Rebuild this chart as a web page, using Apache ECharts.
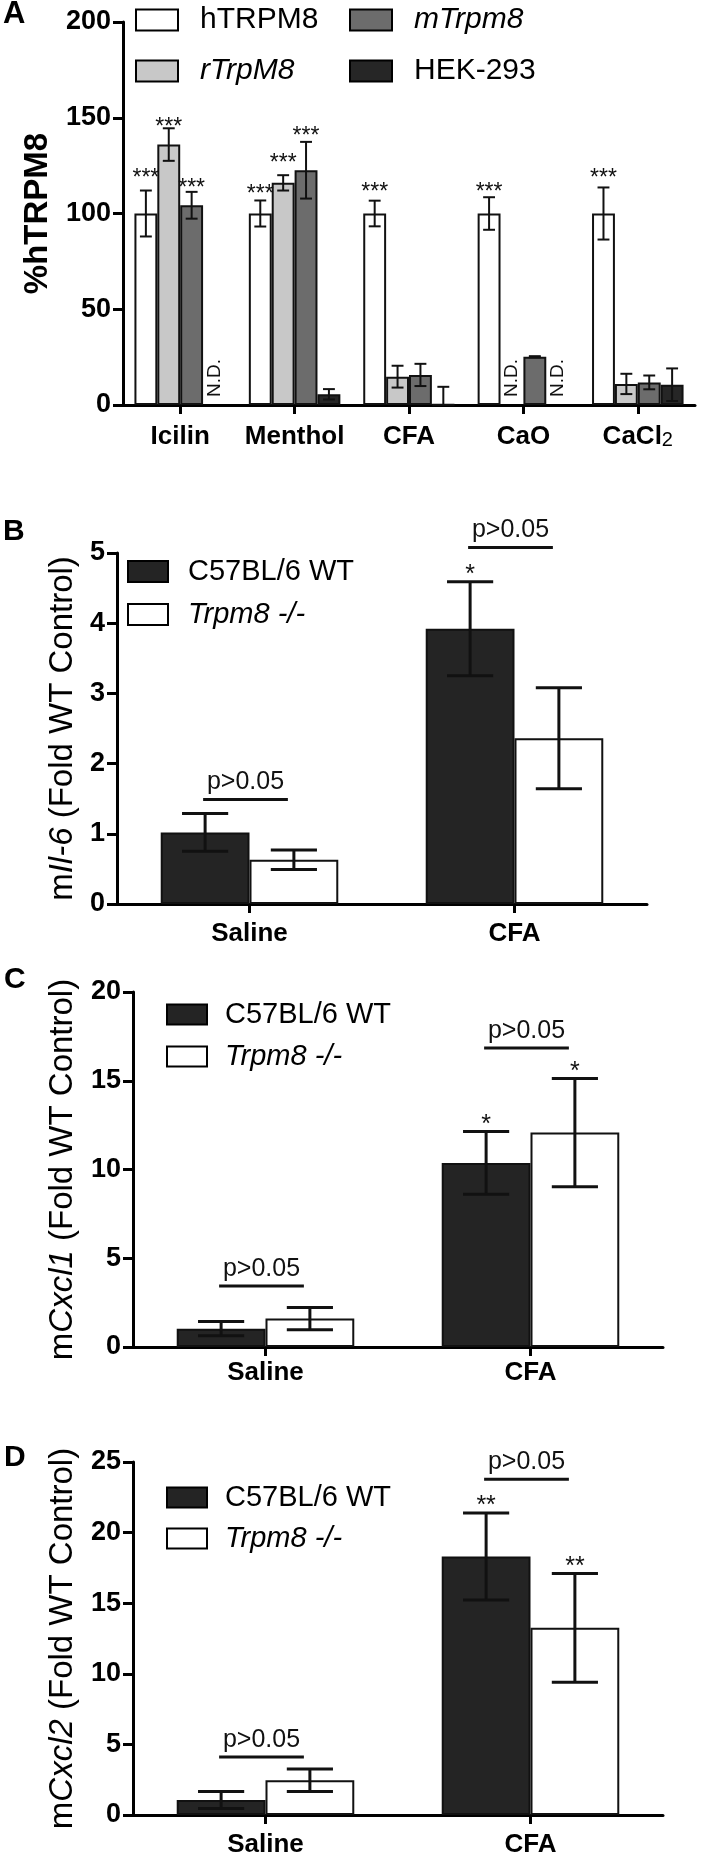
<!DOCTYPE html>
<html><head><meta charset="utf-8">
<script src="https://cdn.jsdelivr.net/npm/echarts@6/dist/echarts.min.js"></script>
<style>html,body{margin:0;padding:0;background:#fff}#c{width:702px;height:1858px}</style>
</head><body><div id="c"></div>
<script>
// ---------- Panel A data ----------
const aCategories = ['Icilin', 'Menthol', 'CFA', 'CaO', 'CaCl2'];
const aNames = ['hTRPM8', 'rTrpM8', 'mTrpm8', 'HEK-293'];
const aHTRPM8 = [100, 100, 100, 100, 100];
const aHTRPM8Err = [12, 6.8, 6.7, 8.5, 13.6];
const aRTrpM8 = [136, 116, 14.8, null, 11];
const aRTrpM8Err = [8.5, 4, 5.7, null, 5.3];
const aMTrpm8 = [104.3, 122.6, 15.7, 25.2, 11.8];
const aMTrpm8Err = [7, 14.8, 5.8, 0.3, 3.6];
const aHEK = [null, 5.6, 0.3, null, 10.6];
const aHEKErr = [null, 2.7, 9.2, null, 8.5];
const aHTRPM8Sig = ['***', '***', '***', '***', '***'];
const aHTRPM8SigY = [121, 113, 114, 114, 121];
const aRTrpM8Sig = ['***', '***', null, null, null];
const aRTrpM8SigY = [148, 129, null, null, null];
const aMTrpm8Sig = ['***', '***', null, null, null];
const aMTrpm8SigY = [116, 143, null, null, null];
const aHEKSig = [null, null, null, null, null];
const aHEKSigY = [null, null, null, null, null];

// ---------- Panels B, C, D data ----------
const groupCategories = ['Saline', 'CFA'];
const groupNames = ['C57BL/6 WT', 'Trpm8 -/-'];
const bWT = [1.02, 3.92];   const bWTErr = [0.27, 0.67];
const bKO = [0.63, 2.36];   const bKOErr = [0.14, 0.72];
const bWTSig = [null, '*']; const bKOSig = [null, null];
const bPLevel = [1.49, 5.08];
const cWT = [1.03, 10.37];  const cWTErr = [0.4, 1.77];
const cKO = [1.6, 12.08];   const cKOErr = [0.63, 3.05];
const cWTSig = [null, '*']; const cKOSig = [null, '*'];
const cPLevel = [3.44, 16.85];
const dWT = [1.06, 18.3];   const dWTErr = [0.6, 3.08];
const dKO = [2.46, 13.26];  const dKOErr = [0.8, 3.85];
const dWTSig = [null, '**']; const dKOSig = [null, '**'];
const dPLevel = [4.1, 23.78];
const pText = 'p>0.05';

// ---------- styles ----------
const FONT = "'Liberation Sans', Arial, Helvetica, sans-serif";
const aColors = ['#ffffff', '#c8c8c8', '#6c6c6c', '#262626'];
const gColors = ['#242424', '#ffffff'];
const aGap = 0.20, gGap = 0.33;

const chart = echarts.init(document.getElementById('c'), null, {renderer: 'canvas'});

const grids = [
  {left: 123, top: 22, width: 572, height: 383},
  {left: 117, top: 553, width: 530, height: 351},
  {left: 133, top: 992, width: 530, height: 355},
  {left: 133, top: 1462, width: 530, height: 354}
];

function xAx(gi, cats, margin) {
  return {
    type: 'category', gridIndex: gi, data: cats,
    axisLine: {lineStyle: {color: '#000', width: 3}},
    axisTick: {show: true, alignWithLabel: true, length: 9, lineStyle: {color: '#000', width: 3}},
    axisLabel: {
      interval: 0,
      fontFamily: FONT, fontWeight: 'bold', fontSize: 26, color: '#000', margin: margin,
      formatter: v => v === 'CaCl2' ? 'CaCl{s|2}' : v,
      rich: {s: {fontFamily: FONT, fontSize: 20, fontWeight: 'normal', color: '#000', padding: [6, 0, 0, 0]}}
    },
    splitLine: {show: false}
  };
}
function yAx(gi, max, interval, name, nameGap, nameBold, nameSize) {
  return {
    type: 'value', gridIndex: gi, min: 0, max: max, interval: interval,
    axisLine: {show: true, lineStyle: {color: '#000', width: 3}},
    axisTick: {show: true, length: 10, lineStyle: {color: '#000', width: 3}},
    axisLabel: {fontFamily: FONT, fontWeight: 'bold', fontSize: 27, color: '#000', margin: 12},
    splitLine: {show: false},
    name: name, nameLocation: 'middle', nameRotate: 90, nameGap: nameGap,
    nameTextStyle: {
      fontFamily: FONT, fontSize: nameSize, fontWeight: nameBold ? 'bold' : 'normal', color: '#000',
      rich: {i: {fontFamily: FONT, fontSize: nameSize, fontStyle: 'italic', color: '#000'}}
    }
  };
}

function barSeries(gi, name, values, color, gap) {
  return {
    type: 'bar', name: name, xAxisIndex: gi, yAxisIndex: gi, z: 2,
    barGap: '0%', barCategoryGap: (gap * 100) + '%',
    data: values.map(v => v == null ? '-' : v),
    itemStyle: {color: color, borderColor: '#111', borderWidth: 2},
    emphasis: {disabled: true}, silent: true
  };
}

// error bars + significance labels + N.D.
function errSeries(gi, n, i, gap, means, errs, sigs, sigYs, lw, starSize) {
  return {
    type: 'custom', xAxisIndex: gi, yAxisIndex: gi, z: 5, silent: true, clip: false,
    data: means.map((m, k) => [k, m == null ? 0 : m]),
    renderItem: function (params, api) {
      const k = params.dataIndex;
      const base = api.coord([k, 0]);
      const band = api.size([1, 0])[0];
      const bw = band * (1 - gap) / n;
      const x = base[0] + (i - (n - 1) / 2) * bw;
      const children = [];
      const m = means[k];
      if (m == null) {
        children.push({type: 'text', x: x, y: base[1] - 8, rotation: Math.PI / 2,
          style: {text: 'N.D.', font: '19px ' + FONT, fill: '#111', align: 'left', verticalAlign: 'middle'}});
      } else {
        const e = errs[k];
        const yt = api.coord([k, m + e])[1];
        const lowV = m - e;
        const yb = api.coord([k, Math.max(lowV, 0)])[1];
        const cw = bw * 0.26;
        const ls = {stroke: '#111', lineWidth: lw};
        children.push({type: 'line', shape: {x1: x, y1: yt, x2: x, y2: yb}, style: ls});
        children.push({type: 'line', shape: {x1: x - cw, y1: yt, x2: x + cw, y2: yt}, style: ls});
        if (lowV > 0) children.push({type: 'line', shape: {x1: x - cw, y1: yb, x2: x + cw, y2: yb}, style: ls});
        if (sigs && sigs[k]) {
          let ty;
          if (sigYs && sigYs[k] != null) ty = api.coord([k, sigYs[k]])[1] + starSize * 0.25;
          else ty = yt - 13 + starSize * 0.25;
          children.push({type: 'text', x: x, y: ty,
            style: {text: sigs[k], font: starSize + 'px ' + FONT, fill: '#111', align: 'center', verticalAlign: 'middle'}});
        }
      }
      return {type: 'group', children: children};
    }
  };
}

function pSeries(gi, levels, gap) {
  return {
    type: 'custom', xAxisIndex: gi, yAxisIndex: gi, z: 5, silent: true, clip: false,
    data: levels.map((l, k) => [k, l]),
    renderItem: function (params, api) {
      const k = params.dataIndex;
      const c = api.coord([k, levels[k]]);
      const band = api.size([1, 0])[0];
      const bw = band * (1 - gap) / 2;
      const x1 = c[0] - bw / 2 - 2, x2 = c[0] + bw / 2 - 6;
      return {type: 'group', children: [
        {type: 'line', shape: {x1: x1, y1: c[1], x2: x2, y2: c[1]}, style: {stroke: '#111', lineWidth: 3}},
        {type: 'text', x: (x1 + x2) / 2, y: c[1] - 17,
          style: {text: pText, font: '25px ' + FONT, fill: '#111', align: 'center', verticalAlign: 'middle'}}
      ]};
    }
  };
}

function leg(name, left, top, fs, italic, w, h, pad) {
  return {
    data: [name], left: left, top: top, padding: 0, itemWidth: w, itemHeight: h,
    icon: 'rect', selectedMode: false,
    itemStyle: {borderColor: '#000', borderWidth: 2},
    textStyle: {fontFamily: FONT, fontSize: fs, fontStyle: italic ? 'italic' : 'normal', color: '#000',
      lineHeight: h, padding: [0, 0, 0, pad]}
  };
}

const aVals = [aHTRPM8, aRTrpM8, aMTrpm8, aHEK];
const aErrs = [aHTRPM8Err, aRTrpM8Err, aMTrpm8Err, aHEKErr];
const aSigs = [aHTRPM8Sig, aRTrpM8Sig, aMTrpm8Sig, aHEKSig];
const aSigYs = [aHTRPM8SigY, aRTrpM8SigY, aMTrpm8SigY, aHEKSigY];

const series = [];
aNames.forEach((nm, i) => series.push(barSeries(0, nm, aVals[i], aColors[i], aGap)));
aNames.forEach((nm, i) => series.push(errSeries(0, 4, i, aGap, aVals[i], aErrs[i], aSigs[i], aSigYs[i], 2, 23)));

const panels = [
  {gi: 1, wt: bWT, wtE: bWTErr, ko: bKO, koE: bKOErr, wtS: bWTSig, koS: bKOSig, p: bPLevel},
  {gi: 2, wt: cWT, wtE: cWTErr, ko: cKO, koE: cKOErr, wtS: cWTSig, koS: cKOSig, p: cPLevel},
  {gi: 3, wt: dWT, wtE: dWTErr, ko: dKO, koE: dKOErr, wtS: dWTSig, koS: dKOSig, p: dPLevel}
];
panels.forEach(P => {
  series.push(barSeries(P.gi, groupNames[0], P.wt, gColors[0], gGap));
  series.push(barSeries(P.gi, groupNames[1], P.ko, gColors[1], gGap));
  series.push(errSeries(P.gi, 2, 0, gGap, P.wt, P.wtE, P.wtS, null, 3, 25));
  series.push(errSeries(P.gi, 2, 1, gGap, P.ko, P.koE, P.koS, null, 3, 25));
  series.push(pSeries(P.gi, P.p, gGap));
});

const option = {
  animation: false,
  backgroundColor: '#fff',
  grid: grids,
  xAxis: [xAx(0, aCategories, 19), xAx(1, groupCategories, 17), xAx(2, groupCategories, 13), xAx(3, groupCategories, 17)],
  yAxis: [
    yAx(0, 200, 50, '%hTRPM8', 69, true, 33),
    yAx(1, 5, 1, 'm{i|Il-6} (Fold WT Control)', 38, false, 33),
    yAx(2, 20, 5, 'm{i|Cxcl1} (Fold WT Control)', 54, false, 33),
    yAx(3, 25, 5, 'm{i|Cxcl2} (Fold WT Control)', 54, false, 33)
  ],
  legend: [
    leg('hTRPM8', 135, 5, 30, false, 42, 21, 17),
    leg('rTrpM8', 135, 56, 30, true, 42, 21, 17),
    leg('mTrpm8', 349, 5, 30, true, 42, 21, 17),
    leg('HEK-293', 349, 56, 30, false, 42, 21, 17),
    leg('C57BL/6 WT', 127, 557, 29, false, 40, 21, 15),
    leg('Trpm8 -/-', 127, 600, 29, true, 40, 21, 15),
    leg('C57BL/6 WT', 166, 1000, 29, false, 40, 20, 13),
    leg('Trpm8 -/-', 166, 1042, 29, true, 40, 20, 13),
    leg('C57BL/6 WT', 166, 1483, 29, false, 40, 20, 13),
    leg('Trpm8 -/-', 166, 1524, 29, true, 40, 20, 13)
  ],
  graphic: [
    {type: 'text', left: 3, top: -1, style: {text: 'A', font: 'bold 31px ' + FONT, fill: '#000'}},
    {type: 'text', left: 3, top: 517, style: {text: 'B', font: 'bold 30px ' + FONT, fill: '#000'}},
    {type: 'text', left: 4, top: 965, style: {text: 'C', font: 'bold 30px ' + FONT, fill: '#000'}},
    {type: 'text', left: 4, top: 1443, style: {text: 'D', font: 'bold 30px ' + FONT, fill: '#000'}}
  ],
  series: series
};
chart.setOption(option);
</script>
</body></html>
